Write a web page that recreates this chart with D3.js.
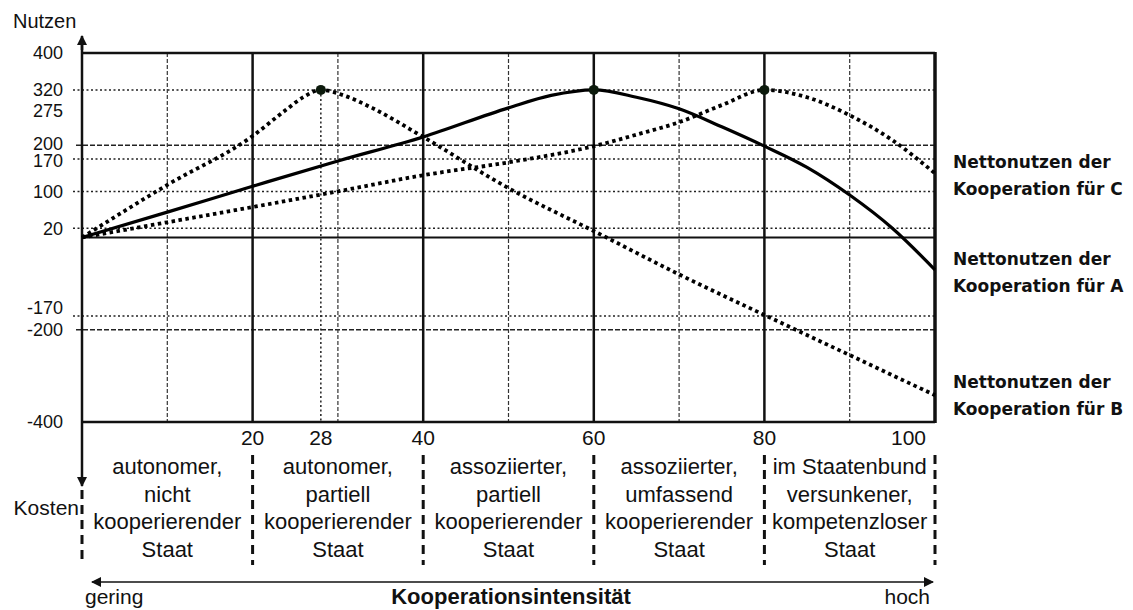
<!DOCTYPE html>
<html>
<head>
<meta charset="utf-8">
<script src="https://cdn.jsdelivr.net/npm/d3@7"></script>
<style>
    body { margin: 0; background: #fff; }
    #chart { width: 1133px; height: 610px; }
    text { font-family: "Liberation Sans", Arial, sans-serif; fill: #111; }
    .bold { font-weight: bold; }
    .side { font-family: "DejaVu Sans", Verdana, sans-serif; font-weight: bold; font-size: 17px; }
</style>
</head>
<body>
<div id="chart"></div>
<script>
// values
const yTicks = [400, 320, 275, 200, 170, 100, 20, -170, -200, -400];
const dottedLevels = [320, 170, 100, 20, -170];
const dashedLevels = [200, -200];
const xTicks = [20, 28, 40, 60, 80, 100];
const solidX = [20, 40, 60, 80];
const dashedX = [10, 30, 50, 70, 90];
const sectionBounds = [0, 20, 40, 60, 80, 100];
const sectionCenters = [10, 30, 50, 70, 90];
const sectionLabels = [
    ["autonomer,", "nicht", "kooperierender", "Staat"],
    ["autonomer,", "partiell", "kooperierender", "Staat"],
    ["assoziierter,", "partiell", "kooperierender", "Staat"],
    ["assoziierter,", "umfassend", "kooperierender", "Staat"],
    ["im Staatenbund", "versunkener,", "kompetenzloser", "Staat"]
];

// net benefit curves [intensity, value]
const nutzenA = [[0, 0], [10, 55], [20, 111], [30, 166], [40, 218], [50, 281], [55, 308], [60, 320],
    [65, 304], [70, 279], [75, 240], [80, 198], [85, 152], [90, 92], [95, 20], [100, -70]];
const nutzenB = [[0, 0], [10, 114], [20, 220], [24, 278], [26, 305], [28, 320], [31, 306], [34, 281],
    [40, 218], [50, 107], [60, 14], [70, -80], [80, -168], [90, -255], [100, -342]];
const nutzenC = [[0, 0], [10, 33], [20, 66], [30, 100], [40, 135], [50, 163], [60, 198], [65, 223],
    [70, 250], [75, 287], [80, 320], [85, 304], [90, 265], [95, 211], [100, 139]];
const peaks = [[28, 320], [60, 320], [80, 320]];

const width = 1133;
const height = 610;
const margin = { top: 53, left: 82, right: 198, bottom: 188 };

const svg = d3.select("#chart")
    .append("svg")
    .attr("width", width)
    .attr("height", height);

const xScale = d3.scaleLinear()
    .domain([0, 100])
    .range([margin.left, width - margin.right]);

const yScale = d3.scaleLinear()
    .domain([-400, 400])
    .range([height - margin.bottom, margin.top]);

const x0 = xScale(0), x1 = xScale(100);
const yTop = yScale(400), yBot = yScale(-400);

// arrow markers
const defs = svg.append("defs");
defs.append("marker")
    .attr("id", "arrow")
    .attr("viewBox", "0 0 10 10")
    .attr("refX", 9).attr("refY", 5)
    .attr("markerWidth", 10).attr("markerHeight", 10)
    .attr("markerUnits", "userSpaceOnUse")
    .attr("orient", "auto-start-reverse")
    .append("path")
    .attr("d", "M0,0 L10,5 L0,10 Z")
    .attr("fill", "#111");

// horizontal grid lines
svg.selectAll(".hdot")
    .data(dottedLevels)
    .enter()
    .append("line")
    .attr("x1", 73).attr("x2", x1)
    .attr("y1", d => yScale(d)).attr("y2", d => yScale(d))
    .attr("stroke", "#222").attr("stroke-width", 1.5)
    .attr("stroke-dasharray", "2,2.5");

svg.selectAll(".hdash")
    .data(dashedLevels)
    .enter()
    .append("line")
    .attr("x1", 76).attr("x2", x1)
    .attr("y1", d => yScale(d)).attr("y2", d => yScale(d))
    .attr("stroke", "#222").attr("stroke-width", 1.3)
    .attr("stroke-dasharray", "5,2");

// vertical grid lines
svg.selectAll(".vdash")
    .data(dashedX)
    .enter()
    .append("line")
    .attr("x1", d => xScale(d)).attr("x2", d => xScale(d))
    .attr("y1", yTop).attr("y2", yBot)
    .attr("stroke", "#333").attr("stroke-width", 1.2)
    .attr("stroke-dasharray", "4,2");

svg.selectAll(".vsolid")
    .data(solidX)
    .enter()
    .append("line")
    .attr("x1", d => xScale(d)).attr("x2", d => xScale(d))
    .attr("y1", yTop).attr("y2", yBot)
    .attr("stroke", "#111").attr("stroke-width", 2.5);

// dotted drop line from the first peak
svg.append("line")
    .attr("x1", xScale(peaks[0][0])).attr("x2", xScale(peaks[0][0]))
    .attr("y1", yScale(peaks[0][1])).attr("y2", yBot)
    .attr("stroke", "#222").attr("stroke-width", 1.5)
    .attr("stroke-dasharray", "2,2.5");

// frame and zero line
svg.append("line").attr("x1", x0).attr("x2", x1).attr("y1", yTop).attr("y2", yTop)
    .attr("stroke", "#111").attr("stroke-width", 2.5);
svg.append("line").attr("x1", x0).attr("x2", x1).attr("y1", yBot).attr("y2", yBot)
    .attr("stroke", "#111").attr("stroke-width", 2.5);
svg.append("line").attr("x1", x0).attr("x2", x1).attr("y1", yScale(0)).attr("y2", yScale(0))
    .attr("stroke", "#111").attr("stroke-width", 2);
svg.append("line").attr("x1", x1).attr("x2", x1).attr("y1", yTop - 1).attr("y2", yBot + 1)
    .attr("stroke", "#111").attr("stroke-width", 3.5);

// y axis with arrows both ways
svg.append("line")
    .attr("x1", x0).attr("x2", x0)
    .attr("y1", 50).attr("y2", 36)
    .attr("stroke", "#111").attr("stroke-width", 2.5)
    .attr("marker-end", "url(#arrow)");
svg.append("line")
    .attr("x1", x0).attr("x2", x0)
    .attr("y1", 40).attr("y2", 486)
    .attr("stroke", "#111").attr("stroke-width", 2.5)
    .attr("marker-end", "url(#arrow)");

// curves
const line = d3.line()
    .x(d => xScale(d[0]))
    .y(d => yScale(d[1]))
    .curve(d3.curveMonotoneX);

svg.append("path")
    .datum(nutzenA)
    .attr("d", line)
    .attr("fill", "none")
    .attr("stroke", "#000")
    .attr("stroke-width", 3.2);

svg.selectAll(".dotted")
    .data([nutzenB, nutzenC])
    .enter()
    .append("path")
    .attr("d", line)
    .attr("fill", "none")
    .attr("stroke", "#000")
    .attr("stroke-width", 3.8)
    .attr("stroke-dasharray", "3.5,3.5");

svg.selectAll(".peak")
    .data(peaks)
    .enter()
    .append("circle")
    .attr("cx", d => xScale(d[0]))
    .attr("cy", d => yScale(d[1]))
    .attr("r", 5)
    .attr("fill", "#0c1a0c");

// y tick labels (-170 sits a little higher, as in the original)
svg.selectAll(".ylab")
    .data(yTicks)
    .enter()
    .append("text")
    .attr("x", 63)
    .attr("y", d => yScale(d) + (d === -170 ? -8 : 0) + (d === 170 ? 1 : 0) + (d === 200 ? -2 : 0))
    .attr("dy", "0.36em")
    .attr("text-anchor", "end")
    .attr("font-size", 18)
    .text(d => d);

svg.append("text").attr("x", 13).attr("y", 28).attr("font-size", 20).text("Nutzen");
svg.append("text").attr("x", 79).attr("y", 515).attr("text-anchor", "end").attr("font-size", 21).text("Kosten");

// x tick labels
svg.selectAll(".xlab")
    .data(xTicks)
    .enter()
    .append("text")
    .attr("x", d => d === 100 ? xScale(d) - 9 : xScale(d))
    .attr("y", 445)
    .attr("text-anchor", d => d === 100 ? "end" : "middle")
    .attr("font-size", 21)
    .text(d => d);

// section separators
svg.selectAll(".sep")
    .data(sectionBounds)
    .enter()
    .append("line")
    .attr("x1", d => xScale(d)).attr("x2", d => xScale(d))
    .attr("y1", d => d === 0 ? 490 : 455).attr("y2", 565)
    .attr("stroke", "#111").attr("stroke-width", 3)
    .attr("stroke-dasharray", "9,6");

// section labels
const sec = svg.selectAll(".sec")
    .data(sectionLabels)
    .enter()
    .append("text")
    .attr("text-anchor", "middle")
    .attr("font-size", 22);

sec.selectAll("tspan")
    .data((d, i) => d.map(t => ({ t: t, c: sectionCenters[i] })))
    .enter()
    .append("tspan")
    .attr("x", d => xScale(d.c))
    .attr("y", (d, j) => 474 + j * 27.7)
    .text(d => d.t);

// bottom arrow
svg.append("line")
    .attr("x1", x0 + 10).attr("x2", x1 - 2)
    .attr("y1", 582).attr("y2", 582)
    .attr("stroke", "#111").attr("stroke-width", 1.5)
    .attr("marker-start", "url(#arrow)")
    .attr("marker-end", "url(#arrow)");

svg.append("text").attr("x", 85).attr("y", 604).attr("font-size", 21).text("gering");
svg.append("text").attr("class", "bold").attr("x", 511).attr("y", 604)
    .attr("text-anchor", "middle").attr("font-size", 22).text("Kooperationsintensität");
svg.append("text").attr("x", 930).attr("y", 604).attr("text-anchor", "end").attr("font-size", 21).text("hoch");

// curve names on the right
const sideLabels = [
    { lines: ["Nettonutzen der", "Kooperation für C"], y: 168 },
    { lines: ["Nettonutzen der", "Kooperation für A"], y: 265 },
    { lines: ["Nettonutzen der", "Kooperation für B"], y: 388 }
];

svg.selectAll(".side")
    .data(sideLabels)
    .enter()
    .append("text")
    .attr("class", "side")
    .selectAll("tspan")
    .data(d => d.lines.map((t, j) => ({ t: t, y: d.y + j * 27 })))
    .enter()
    .append("tspan")
    .attr("x", 953)
    .attr("y", d => d.y)
    .text(d => d.t);
</script>
</body>
</html>
